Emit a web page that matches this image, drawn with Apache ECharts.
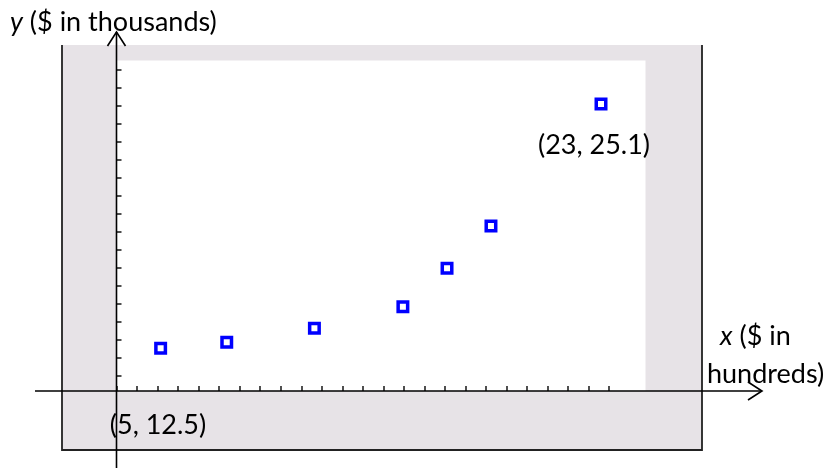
<!DOCTYPE html>
<html><head><meta charset="utf-8">
<script src="https://cdn.jsdelivr.net/npm/echarts@6/dist/echarts.min.js"></script>
<style>html,body{margin:0;padding:0;background:#fff}#c{width:830px;height:475px}</style>
</head><body><div id="c"></div>
<script>
// data (x in tick units of $ hundreds, y in tick units of $ thousands)
const xValues = [2.15, 5.37, 9.64, 13.95, 16.1, 18.24, 23.6];
const yValues = [2.37, 2.71, 3.48, 4.68, 6.82, 9.17, 15.94];
const xTickMax = 24;
const yTickMax = 17;
const yAxisTitle = ['y', ' ($ in thousands)'];
const xAxisTitle = [['x', ' ($ in'], ['', 'hundreds)']];
const pointLabel = '(23, 25.1)';
const originLabel = '(5, 12.5)';

const FONT = 'Lato, "Open Sans", sans-serif';
const FS = 27;
const chart = echarts.init(document.getElementById('c'), null, {renderer: 'canvas'});

const ox = 116.5, oy = 391, ux = 20.53, uy = 18;
const tickStyle = {show: true, inside: true, length: 5, lineStyle: {color: '#222', width: 1.6}};

function txt(x, y, parts, align) {
  return {type: 'text', z: 20, x: x, y: y, style: {
    text: (parts[0] ? '{i|' + parts[0] + '}' : '') + parts[1],
    font: FS + 'px ' + FONT, fill: '#000', align: align || 'left', verticalAlign: 'middle',
    rich: {i: {fontStyle: 'italic', font: 'italic ' + FS + 'px ' + FONT, fill: '#000'}}
  }};
}

chart.setOption({
  animation: false,
  grid: [
    {left: ox, top: oy - 18 * uy, width: xTickMax * ux, height: 18 * uy},
    {left: ox, top: 70, width: xTickMax * ux, height: yTickMax * uy}
  ],
  xAxis: [
    {gridIndex: 0, type: 'value', min: 0, max: xTickMax, interval: 1,
     axisLine: {show: false}, axisTick: tickStyle, axisLabel: {show: false}, splitLine: {show: false}},
    {gridIndex: 1, type: 'value', min: 0, max: xTickMax, show: false}
  ],
  yAxis: [
    {gridIndex: 0, type: 'value', min: 0, max: 18, show: false},
    {gridIndex: 1, type: 'value', min: 0, max: yTickMax, interval: 1,
     axisLine: {show: false}, axisTick: tickStyle, axisLabel: {show: false}, splitLine: {show: false}}
  ],
  series: [{
    type: 'scatter', xAxisIndex: 0, yAxisIndex: 0, z: 5,
    symbol: 'rect', symbolSize: 9.5,
    itemStyle: {color: '#ffffff', borderColor: '#0000ff', borderWidth: 3.5, opacity: 1},
    data: xValues.map((x, i) => [x, yValues[i]])
  }],
  graphic: [
    {type: 'rect', z: -20, shape: {x: 62, y: 45, width: 640, height: 405}, style: {fill: '#e7e3e7'}},
    {type: 'polyline', z: -19, shape: {points: [[62, 45], [62, 450], [702, 450], [702, 45]]}, style: {stroke: '#222', lineWidth: 1.8, fill: null}},
    {type: 'rect', z: -18, shape: {x: ox, y: 60.5, width: 645.5 - ox, height: oy - 60.5}, style: {fill: '#ffffff'}},
    {type: 'line', z: 10, shape: {x1: 35, y1: oy, x2: 762, y2: oy}, style: {stroke: '#000', lineWidth: 1.6}},
    {type: 'polyline', z: 10, shape: {points: [[748, oy - 9], [762, oy], [748, oy + 9]]}, style: {stroke: '#000', lineWidth: 1.6, fill: null}},
    {type: 'line', z: 10, shape: {x1: ox, y1: 32, x2: ox, y2: 468}, style: {stroke: '#000', lineWidth: 1.6}},
    {type: 'polyline', z: 10, shape: {points: [[ox - 9, 46], [ox, 32], [ox + 9, 46]]}, style: {stroke: '#000', lineWidth: 1.6, fill: null}},
    txt(10, 22, yAxisTitle),
    txt(720, 336, xAxisTitle[0]),
    txt(707, 374, xAxisTitle[1]),
    txt(594, 145, ['', pointLabel], 'center'),
    txt(158, 425, ['', originLabel], 'center')
  ]
});
</script></body></html>
